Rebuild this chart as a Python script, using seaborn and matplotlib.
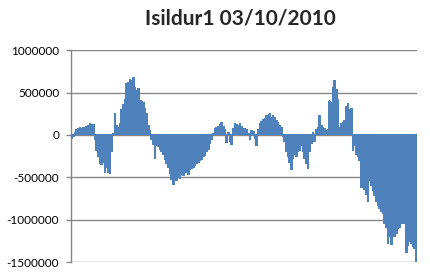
import matplotlib
matplotlib.use("Agg")
import matplotlib.pyplot as plt
import seaborn as sns
import pandas as pd
import numpy as np

title = "Isildur1 03/10/2010"
ytick_values = [-1500000, -1000000, -500000, 0, 500000, 1000000]
ytick_labels = ["-1500000", "-1000000", "-500000", "0", "500000", "1000000"]

# running balance (in thousands) left to right
balance_k = [
    -40, -20, 30, 60, 70, 85, 80, 90, 70, 100, 110, 130, 125, 120,
    -60, -180, -260, -340, -350, -330, -440, -380, -440, -460, -190,
    20, 250, 110, 90, 130, 300, 360, 420, 610, 620, 650, 640, 675, 560,
    520, 550, 410, 400, 380, 310, 250, 110, 50,
    -60, -110, -280, -120, -140, -170, -200, -230, -290, -340, -390, -460,
    -530, -580, -530, -540, -500, -510, -470, -480, -430, -440, -470, -410,
    -400, -380, -360, -340, -330, -300, -290, -260, -240, -190, -170, -100, -60,
    20, 70, 90, 100, 120, 150, 100, 60, -90, 30, -80, -110,
    80, 130, 120, 110, 130, 100, 80, 70, 60, 20, -60, 50, 40, -40, -120,
    60, 130, 160, 180, 190, 230, 210, 250, 200, 230, 200, 170, 150, 110, 90,
    -20, -80, -190, -260, -330, -410, -280, -230, -260, -200, -180, -130,
    -200, -280, -340, -400, -200, -100, 30, -80,
    60, 90, 230, 110, 90, 70, 50, 60, 400, 380, 560, 640, 540, 420, 90,
    130, 150, 170, 330, 370, 300, 310,
    -180, -120, -230, -260, -300, -620, -580, -640, -700, -780, -540, -600,
    -660, -720, -790, -830, -870, -900, -930, -1050, -1090, -1280, -1200,
    -1290, -1170, -1200, -1160, -1100, -1090, -1040, -1000, -1050, -1390,
    -1300, -1260, -1280, -1320, -1340, -1530,
]

df = pd.DataFrame({"idx": range(len(balance_k)),
                   "balance": [v * 1000 for v in balance_k]})

sns.set_style("white")
plt.rcParams["font.family"] = ["Lato", "DejaVu Sans"]

fig = plt.figure(figsize=(4.30, 2.77), dpi=100)
ax = fig.add_axes([0.165, 0.054, 0.805, 0.765])

sns.barplot(data=df, x="idx", y="balance", ax=ax, color="#4F81BD",
            saturation=1, width=1.0, linewidth=0,
            errorbar=None, zorder=3)
for p in ax.patches:
    p.set_snap(False)
    p.set_antialiased(False)

ax.set_ylim(-1500000, 1000000)
ax.set_xlim(-0.5, len(balance_k) - 0.5)
ax.set_yticks(ytick_values)
ax.set_yticklabels(ytick_labels, fontsize=8.5, color="black")
ax.set_xticks([])
ax.set_xlabel("")
ax.set_ylabel("")
ax.grid(axis="y", color="#868686", linewidth=1.0, zorder=0)
ax.set_axisbelow(True)
for s in ["top", "right", "bottom"]:
    ax.spines[s].set_visible(False)
ax.spines["left"].set_color("#868686")
ax.spines["left"].set_linewidth(1.0)
ax.tick_params(axis="y", length=3.5, width=1.0, color="#868686", pad=5, left=True)

fig.text(0.56, 0.935, title, ha="center", va="center",
         fontsize=15, fontweight="bold", family=["Lato", "DejaVu Sans"])

fig.savefig("out.png", dpi=100, facecolor="white")
